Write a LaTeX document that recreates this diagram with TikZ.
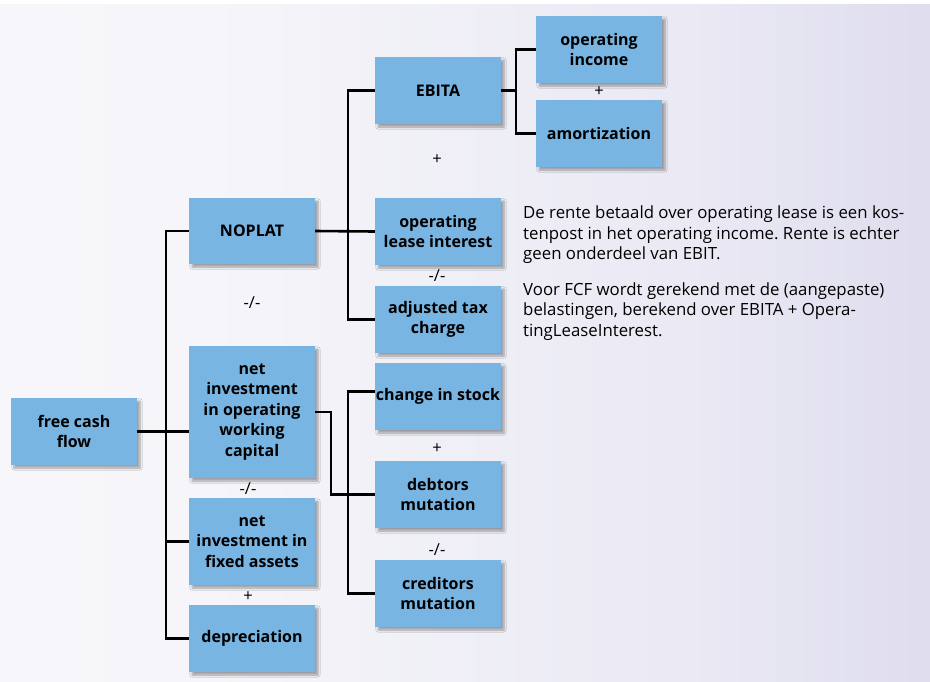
\documentclass[tikz,border=0pt]{standalone}
\usepackage{fontspec}
\setmainfont{Open Sans}
\usepackage{tikz}
\usetikzlibrary{shadows.blur}
\frenchspacing

\definecolor{boxblue}{HTML}{79B5E2}
\definecolor{bgA}{HTML}{FAFAFD}
\definecolor{bgB}{HTML}{F6F6FA}
\definecolor{bgC}{HTML}{EAE9F4}
\definecolor{bgD}{HTML}{CAC7E2}
\pgfdeclarehorizontalshading{bgshade}{100bp}{color(0bp)=(bgA); color(35bp)=(bgB); color(62bp)=(bgC); color(100bp)=(bgD)}

\begin{document}
\begin{tikzpicture}[x=1pt, y=-1pt,
    box/.style={fill=boxblue, minimum width=126pt, minimum height=67pt, inner sep=0pt,
        align=center, font=\fontsize{16}{20.5}\selectfont\bfseries,
        blur shadow={shadow xshift=3pt, shadow yshift=-3pt, shadow blur steps=6, shadow opacity=35}},
    conn/.style={line width=2.6pt},
    oper/.style={font=\fontsize{16.5}{18}\selectfont, inner sep=0pt}]
    % Background
    \useasboundingbox (0,0) rectangle (930,681);
    \fill[white] (0,0) rectangle (930,681);
    \shade[shading=bgshade] (0,4) rectangle (930,681);

    % Boxes
    \node[box] (fcf) at (74,431.5) {free cash\\flow};
    \node[box, minimum height=66pt] (noplat) at (252,231) {NOPLAT};
    \node[box, minimum height=132pt] (niowc) at (252,412) {net\\investment\\in operating\\working\\capital};
    \node[box, minimum height=87pt] (nifa) at (252,541.5) {net\\investment in\\fixed assets};
    \node[box] (dep) at (252,638.5) {depreciation};
    \node[box] (ebita) at (438,90.5) {EBITA};
    \node[box] (opinc) at (599,49.5) {operating\\income};
    \node[box] (amort) at (599,133.5) {amortization};
    \node[box] (oli) at (438,231.5) {operating\\lease interest};
    \node[box] (adj) at (438,319.5) {adjusted tax\\charge};
    \node[box] (cis) at (438,396.5) {change in stock};
    \node[box] (debt) at (438,494.5) {debtors\\mutation};
    \node[box] (cred) at (438,593.5) {creditors\\mutation};

    % Bus lines
    \coordinate (busA) at (166,0);
    \coordinate (busB) at (348,0);
    \coordinate (busC) at (516,0);
    \coordinate (busD) at (331,0);

    % Connectors
    \draw[conn] (fcf.east) -- (fcf.east -| niowc.west);
    \draw[conn] (noplat.west) -- (noplat.west -| busA) -- (dep.west -| busA) -- (dep.west);
    \draw[conn] (nifa.west -| busA) -- (nifa.west);
    \draw[conn] (noplat.east) -- (oli.west);
    \draw[conn] (ebita.west) -- (ebita.west -| busB) -- (adj.west -| busB) -- (adj.west);
    \draw[conn] (ebita.east) -- (ebita.east -| busC);
    \draw[conn] (opinc.west) -- (opinc.west -| busC) -- (amort.west -| busC) -- (amort.west);
    \draw[conn] ([yshift=5pt]cis.west) -- ([yshift=5pt]cis.west -| busB) -- (cred.west -| busB) -- (cred.west);
    \draw[conn] (niowc.east) -- (niowc.east -| busD) -- (debt.west -| busD) -- (debt.west);

    % Operators
    \node[oper] (op1) at (599,92) {+};
    \node[oper] (op2) at (437,160) {+};
    \node[oper] (op3) at (437,276) {-/-};
    \node[oper] (op4) at (252,303) {-/-};
    \node[oper] (op5) at (248,489) {-/-};
    \node[oper] (op6) at (248,597) {+};
    \node[oper] (op7) at (437,449) {+};
    \node[oper] (op8) at (437,550) {-/-};

    % Note
    \node[anchor=north west, inner sep=0pt, align=left, font=\fontsize{16.8}{20.5}\selectfont] (note) at (523,206)
        {De rente betaald over operating lease is een kos-\\
         tenpost in het operating income. Rente is echter\\
         geen onderdeel van EBIT.\\[15pt]
         Voor FCF wordt gerekend met de (aangepaste)\\
         belastingen, berekend over EBITA + Opera-\\
         tingLeaseInterest.};
\end{tikzpicture}
\end{document}
